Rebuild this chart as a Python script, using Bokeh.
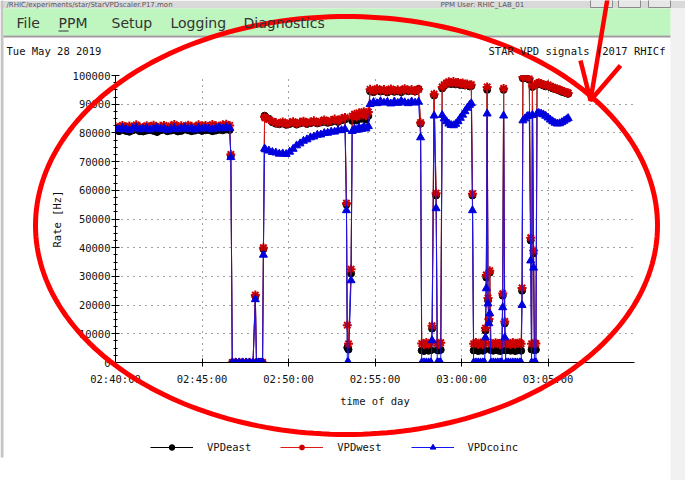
import numpy as np
import pandas as pd
from bokeh.plotting import figure
from bokeh.models import (Range1d, FixedTicker, DatetimeTickFormatter, BasicTickFormatter,
                          Legend, LegendItem, Label, ColumnDataSource, GridBox)
from bokeh.embed import file_html
from bokeh.resources import INLINE

# ---------------- data ----------------
DAY = "2019-05-28"
START = "02:40:00"
X_END = "03:10:00"
X_TICK_LABELS = ["02:40:00", "02:45:00", "02:50:00", "02:55:00", "03:00:00", "03:05:00"]
Y_TICKS = [0, 10000, 20000, 30000, 40000, 50000, 60000, 70000, 80000, 90000, 100000]
SERIES_NAMES = ["VPDeast", "VPDwest", "VPDcoinc"]

# seconds after 02:40:00, and rates [Hz] for each segment
SEG1_T = [0, 12, 24, 36, 48, 60, 72, 84, 96, 108, 120, 132, 144, 156, 168, 180, 192, 204, 216, 228,
          240, 252, 264, 276, 288, 300, 312, 324, 336, 348, 360, 372, 384, 396]
SEG1_EAST = [80900, 80600, 81100, 80700, 80400, 80900, 81200, 80600, 80500, 80800, 81000, 80700, 80300, 80900,
             81100, 80600, 80800, 81000, 80500, 80700, 81200, 80900, 80600, 80800, 81100, 80700, 80900, 81000,
             80600, 80800, 81100, 80900, 81200, 81000]
SEG1_WEST = [82200, 81700, 82600, 81900, 82400, 81600, 82800, 82100, 81800, 82500, 82000, 82700, 81900, 82300,
             82600, 81800, 82400, 82900, 82100, 82500, 81900, 82700, 82300, 82000, 82800, 82400, 82600, 82200,
             82900, 82500, 82300, 82800, 83000, 82600]
SEG1_COINC = [81500, 81100, 81800, 81300, 81000, 81600, 81900, 81200, 81400, 81700, 81100, 81500, 81800, 81300,
              81600, 81000, 81400, 81700, 81200, 81500, 81900, 81300, 81600, 81100, 81800, 81400, 81700, 81500,
              81200, 81600, 81900, 81500, 82000, 81700]

SEG1B_T = [400, 405, 417, 429, 441, 453, 465, 477, 485, 489, 497, 505, 510, 513, 517]
SEG1B_EAST = [72000, 0, 0, 0, 0, 0, 0, 0, 23000, 0, 0, 0, 0, 39500, 86000]
SEG1B_WEST = [72500, 0, 0, 0, 0, 0, 0, 0, 23500, 0, 0, 0, 0, 40000, 85500]
SEG1B_COINC = [71500, 0, 0, 0, 0, 0, 0, 0, 22000, 0, 0, 0, 0, 37500, 74500]

SEG2_T = [520, 532, 544, 556, 568, 580, 592, 604, 616, 628, 640, 652, 664, 676, 688, 700, 712, 724, 736, 748,
          760, 772, 784, 796]
SEG2_EAST = [85600, 84900, 83700, 83200, 83000, 83300, 82800, 83100, 83400, 82900, 83300, 83600, 83100, 83400,
             83700, 83300, 83600, 83900, 83500, 83800, 84200, 83800, 84400, 84700]
SEG2_WEST = [85200, 84700, 84000, 83600, 83300, 83800, 83100, 83500, 83900, 83200, 83700, 84100, 83400, 83800,
             84200, 83600, 84000, 84500, 83900, 84300, 84800, 84200, 85000, 85400]
SEG2_COINC = [74200, 73800, 73300, 73100, 72700, 72800, 72600, 73400, 74400, 75600, 76300, 77200, 77700, 78400,
              78700, 79300, 79400, 79900, 80000, 80400, 80400, 80900, 80900, 81300]

SEG2B_T = [801, 804, 808, 817, 821, 829, 837, 845, 853, 861, 869, 877]
SEG2B_EAST = [55000, 5200, 4500, 31000, 84200, 84800, 84300, 85500, 84900, 85800, 84600, 85900]
SEG2B_WEST = [55500, 13000, 6500, 32500, 85800, 86500, 85600, 87000, 86200, 87400, 86000, 87300]
SEG2B_COINC = [53000, 0, 0, 28600, 80600, 81400, 81000, 81800, 81300, 82100, 81500, 82300]

SEG3_T = [883, 895, 907, 919, 931, 943, 955, 967, 979, 991, 1003, 1015, 1027, 1039, 1051]
SEG3_EAST = [94500, 94200, 94800, 94400, 94600, 94100, 94700, 94300, 94500, 94200, 94800, 94500, 94700, 94400, 95300]
SEG3_WEST = [95200, 94600, 95400, 94900, 95100, 94500, 95300, 94800, 95000, 94700, 95400, 94900, 95100, 94600, 95200]
SEG3_COINC = [90000, 90700, 90300, 91000, 90500, 90800, 90200, 90900, 90400, 91100, 90600, 90300, 90900, 90500, 90800]

SEG3B_T = [1058, 1062, 1070, 1078, 1086, 1094, 1098, 1105, 1112, 1116, 1122, 1128, 1133]
SEG3B_EAST = [83200, 4200, 4000, 4400, 4100, 4300, 11800, 93000, 58200, 4300, 4200, 4400, 95500]
SEG3B_WEST = [83600, 6600, 6200, 7000, 6400, 6800, 12800, 93500, 59000, 6700, 6400, 6900, 96000]
SEG3B_COINC = [78400, 0, 0, 0, 0, 0, 7700, 86000, 53700, 0, 0, 0, 86200]

SEG4_T = [1140, 1148, 1156, 1164, 1172, 1180, 1188, 1196, 1204, 1212, 1220, 1228, 1234]
SEG4_EAST = [96300, 97000, 97300, 97000, 97400, 96900, 97100, 96700, 96900, 96500, 96600, 96200, 96300]
SEG4_WEST = [96800, 97400, 97800, 97500, 97900, 97300, 97600, 97100, 97400, 96900, 97000, 96600, 96800]
SEG4_COINC = [85000, 84000, 83200, 82700, 82600, 83100, 84000, 85200, 86300, 87500, 88700, 89700, 90300]

SEG4B_T = [1238, 1242, 1250, 1258, 1266, 1274, 1280, 1283, 1286, 1289, 1292, 1295, 1298, 1302, 1310, 1318,
           1326, 1334, 1340, 1343, 1346, 1350, 1354, 1362, 1370, 1378, 1386, 1394, 1402, 1407]
SEG4B_EAST = [58200, 4200, 4400, 4000, 4300, 4100, 4400, 11100, 29600, 95000, 21600, 14600, 31300, 4300, 4100,
              4400, 4200, 4000, 4300, 23300, 95000, 13600, 4200, 4400, 4100, 4300, 4000, 4200, 4400, 4100]
SEG4B_WEST = [58800, 6500, 7000, 6300, 6800, 6200, 6900, 12000, 30500, 96000, 22500, 15200, 32000, 6600, 6400,
              6900, 6600, 6200, 7000, 24000, 95500, 14300, 6500, 6800, 6300, 7000, 6400, 6700, 6900, 6500]
SEG4B_COINC = [53000, 0, 0, 0, 0, 0, 0, 8700, 25800, 86700, 20500, 13600, 17100, 0, 0,
               0, 0, 0, 0, 19200, 86000, 8700, 0, 0, 0, 0, 0, 0, 0, 0]

SEG5_T = [1410, 1413, 1420, 1428, 1435, 1440, 1443, 1446, 1450, 1453, 1458, 1462,
          1468, 1476, 1484, 1492, 1500, 1508, 1516, 1524, 1532, 1540, 1548, 1556, 1564, 1570]
SEG5_EAST = [25000, 99000, 99300, 99000, 98500, 42500, 4500, 96000, 38000, 4300, 4400, 96800,
             97200, 96900, 96500, 96200, 96300, 95900, 95500, 95300, 95000, 94700, 94300, 94100, 93800, 93600]
SEG5_WEST = [26000, 99500, 99800, 99500, 99000, 43500, 6500, 96500, 39000, 6800, 6600, 97200,
             97500, 97200, 96900, 96500, 96700, 96200, 95900, 95600, 95300, 95000, 94700, 94400, 94100, 93900]
SEG5_COINC = [20000, 84300, 85000, 85800, 86000, 35500, 0, 86200, 33000, 0, 0, 86700,
              86900, 86700, 86400, 85900, 85300, 84600, 84000, 83500, 83200, 83300, 83700, 84200, 84700, 85100]

T_S = SEG1_T + SEG1B_T + SEG2_T + SEG2B_T + SEG3_T + SEG3B_T + SEG4_T + SEG4B_T + SEG5_T
VPD_EAST = SEG1_EAST + SEG1B_EAST + SEG2_EAST + SEG2B_EAST + SEG3_EAST + SEG3B_EAST + SEG4_EAST + SEG4B_EAST + SEG5_EAST
VPD_WEST = SEG1_WEST + SEG1B_WEST + SEG2_WEST + SEG2B_WEST + SEG3_WEST + SEG3B_WEST + SEG4_WEST + SEG4B_WEST + SEG5_WEST
VPD_COINC = SEG1_COINC + SEG1B_COINC + SEG2_COINC + SEG2B_COINC + SEG3_COINC + SEG3B_COINC + SEG4_COINC + SEG4B_COINC + SEG5_COINC


def to_ms(hms):
    return pd.Timestamp(f"{DAY} {hms}").value / 1e6


base_ms = to_ms(START)
x_ms = [base_ms + s * 1000.0 for s in T_S]
src = ColumnDataSource(dict(t=x_ms, east=VPD_EAST, west=VPD_WEST, coinc=VPD_COINC))

# ---------------- chart figure ----------------
CANVAS_W, CANVAS_H = 685, 480
F_L, F_T, F_W, F_H = 115, 75, 519, 287
MONO = "DejaVu Sans Mono"

p = figure(frame_width=F_W, frame_height=F_H,
           min_border_left=F_L, min_border_right=CANVAS_W - F_L - F_W,
           min_border_top=F_T, min_border_bottom=CANVAS_H - F_T - F_H,
           x_axis_type="datetime",
           x_range=Range1d(to_ms(START), to_ms(X_END)), y_range=Range1d(0, 100000),
           output_backend="svg", toolbar_location=None)
p.outline_line_color = None
p.background_fill_color = "white"
p.border_fill_color = "white"

xt = FixedTicker(ticks=[to_ms(s) for s in X_TICK_LABELS])
minor = [v + k * 2500 for v in Y_TICKS[:-1] for k in (1, 2, 3)]
yt = FixedTicker(ticks=Y_TICKS, minor_ticks=minor)

xa = p.xaxis[0]
xa.ticker = xt
fmt = "%H:%M:%S"
xa.formatter = DatetimeTickFormatter(seconds=fmt, minsec=fmt, minutes=fmt, hourmin=fmt, hours=fmt)
xa.axis_label = "time of day"
ya = p.yaxis[0]
ya.ticker = yt
ya.formatter = BasicTickFormatter(use_scientific=False)
ya.axis_label = "Rate [Hz]"

for ax in (xa, ya):
    ax.axis_line_color = "black"
    ax.major_tick_line_color = "black"
    ax.major_tick_in = 4
    ax.major_tick_out = 4
    ax.major_label_text_font = MONO
    ax.major_label_text_font_size = "10.5px"
    ax.major_label_text_color = "#111111"
    ax.axis_label_text_font = MONO
    ax.axis_label_text_font_size = "10.5px"
    ax.axis_label_text_font_style = "normal"
    ax.axis_label_text_color = "#111111"
xa.minor_tick_line_color = None
xa.major_label_standoff = 6
xa.axis_label_standoff = 7
ya.minor_tick_line_color = "black"
ya.minor_tick_in = 2
ya.minor_tick_out = 2
ya.major_label_standoff = 1
ya.axis_label_standoff = 7

p.xgrid.ticker = xt
p.ygrid.ticker = yt
for g in (p.xgrid[0], p.ygrid[0]):
    g.grid_line_color = "#444444"
    g.grid_line_dash = "1 5"
    g.grid_line_width = 1

STYLE = {
    "VPDeast": dict(line="black", marker="circle", size=7, fill="black", mline="black", mw=1),
    "VPDwest": dict(line="#e01818", marker="asterisk", size=9, fill="#cc0000", mline="#cc0000", mw=2),
    "VPDcoinc": dict(line="#1414ee", marker="triangle", size=8, fill="#0000dd", mline="#0000dd", mw=1),
}
for name, col in zip(SERIES_NAMES, ["east", "west", "coinc"]):
    s = STYLE[name]
    p.line("t", col, source=src, line_color=s["line"], line_width=1)
    p.scatter("t", col, source=src, marker=s["marker"], size=s["size"], fill_color=s["fill"],
              line_color=s["mline"], line_width=s["mw"])

# ---------------- overlay figure (window decoration, legend, hand drawing) ----------------
q = figure(width=CANVAS_W, height=CANVAS_H, min_border=0,
           x_range=Range1d(0, CANVAS_W), y_range=Range1d(CANVAS_H, 0),
           x_axis_type=None, y_axis_type=None, output_backend="svg", toolbar_location=None)
q.outline_line_color = None
q.background_fill_alpha = 0
q.border_fill_alpha = 0
for fig in (p, q):
    try:
        fig.frame_align = False
    except Exception:
        pass

# window chrome
q.quad(left=[0], right=[685], top=[0], bottom=[8], fill_color="#d9d9d9", line_color=None)
q.quad(left=[0], right=[3], top=[0], bottom=[457], fill_color="#c4c4c4", line_color=None)
q.quad(left=[670], right=[685], top=[8], bottom=[481], fill_color="#f1f1f1", line_color=None)
q.quad(left=[3], right=[670], top=[8], bottom=[35], fill_color="#bff5bf", line_color=None)
q.quad(left=[3], right=[670], top=[35], bottom=[37], fill_color="#9c9c9c", line_color=None)
q.quad(left=[590, 618, 648], right=[612, 640, 670], top=[-4, -4, -4], bottom=[7, 7, 7],
       fill_color="#e6e6e6", line_color="#8a8a8a")


def lab(x, y, text, font, size, color, align="left", baseline="middle"):
    q.add_layout(Label(x=x, y=y, text=text, text_font=font, text_font_size=size, text_color=color,
                       text_align=align, text_baseline=baseline))


lab(6, 4.5, "/RHIC/experiments/star/StarVPDscaler.P17.mon", "DejaVu Sans", "7px", "#555555")
lab(440, 4.5, "PPM User: RHIC_LAB_01", "DejaVu Sans", "7px", "#555555")
for txt, xp in [("File", 16), ("PPM", 58), ("Setup", 111), ("Logging", 170), ("Diagnostics", 243)]:
    lab(xp, 22, txt, "DejaVu Sans", "14px", "#333333")
q.line([58, 68], [30.5, 30.5], line_color="#333333", line_width=1)

lab(6, 50, "Tue May 28 2019", MONO, "10.5px", "#111111")
lab(488, 50, "STAR VPD signals (2017 RHICf", MONO, "10.5px", "#111111")

# legend (stand-in renderers with the series' styles, drawn off-canvas)
items = []
for name in SERIES_NAMES:
    s = STYLE[name]
    r1 = q.line([-200, -190], [-200, -200], line_color=s["line"], line_width=1)
    r2 = q.scatter([-200], [-200], marker=s["marker"], size=s["size"], fill_color=s["fill"],
                   line_color=s["mline"], line_width=s["mw"])
    items.append(LegendItem(label=name, renderers=[r1, r2]))
legend = Legend(items=items, location=(150, CANVAS_H - 454), orientation="horizontal",
                glyph_width=43, glyph_height=14, label_height=14, label_standoff=14, spacing=29,
                padding=0, margin=0, border_line_color=None, background_fill_alpha=0,
                label_text_font=MONO, label_text_font_size="10.5px", label_text_color="#111111")
q.add_layout(legend)

# hand-drawn red ellipse and arrow
tt = np.linspace(0, 2 * np.pi, 241)
q.line(346 + 311 * np.cos(tt), 225 + 209 * np.sin(tt), line_color="#ff0000", line_width=5)
q.line([607, 590], [-2, 100], line_color="#ff0000", line_width=4.5)
q.line([580, 590, 620], [60, 100, 65], line_color="#ff0000", line_width=4.5)

root = GridBox(children=[(p, 0, 0), (q, 0, 0)])
open("out.html", "w").write(file_html(root, INLINE))
